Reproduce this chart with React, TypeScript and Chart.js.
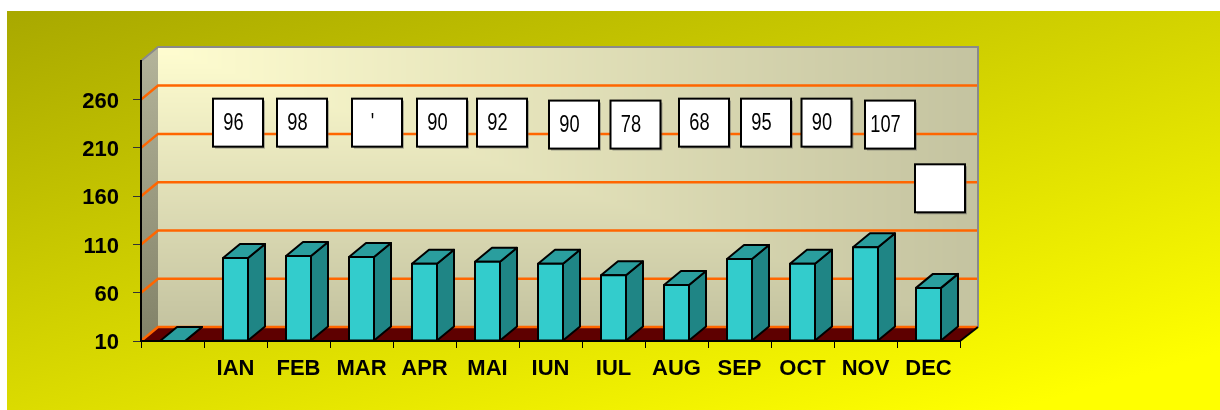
import React, { useEffect, useRef } from 'react';
import { Chart, registerables } from 'chart.js';

Chart.register(...registerables);

// ---------- data ----------
const categories = ['', 'IAN', 'FEB', 'MAR', 'APR', 'MAI', 'IUN', 'IUL', 'AUG', 'SEP', 'OCT', 'NOV', 'DEC'];
const values = [10, 96, 98, 97, 90, 92, 90, 78, 68, 95, 90, 107, 65];
const valueLabels: (string | null)[] = [null, '96', '98', "'", '90', '92', '90', '78', '68', '95', '90', '107', ''];
const yTicks = [10, 60, 110, 160, 210, 260];
const Y_MIN = 10;
const Y_MAX = 300;

// ---------- layout / style (not data) ----------
const labelNudgeX = [0, 2.5, 3.5, 15.5, 17.5, 14.5, 23.5, 22, 27.5, 26.5, 24, 24.5, 11.5];
const labelTopValue = [260, 261, 261, 261, 261, 261, 259, 259, 261, 261, 261, 259, 193];
const DX = 17;
const DY = 14;
const FONT = "'Liberation Sans', Arial, Helvetica, sans-serif";

function poly(ctx: CanvasRenderingContext2D, pts: number[][], fill: any, stroke?: string, lw = 2) {
  ctx.beginPath();
  ctx.moveTo(pts[0][0], pts[0][1]);
  for (let i = 1; i < pts.length; i++) ctx.lineTo(pts[i][0], pts[i][1]);
  ctx.closePath();
  ctx.fillStyle = fill;
  ctx.fill();
  if (stroke) {
    ctx.lineWidth = lw;
    ctx.strokeStyle = stroke;
    ctx.stroke();
  }
}

const threeD = {
  id: 'threeD',
  beforeDraw(chart: any) {
    const { ctx, chartArea: a, scales } = chart;
    const y = scales.y;
    const W = chart.width;
    const H = chart.height;
    ctx.save();
    // page background gradient
    const bg = ctx.createLinearGradient(7, 11, 183, 642);
    bg.addColorStop(0, '#a8a800');
    bg.addColorStop(1, '#ffff00');
    ctx.fillStyle = bg;
    ctx.fillRect(7, 11, W - 7, H - 11);

    const wl = a.left + DX;
    const wt = a.top - DY;
    const wr = a.right + DX;
    const wb = a.bottom - DY;

    // back wall: gradient from the top-left corner
    const ww = Math.round(wr - wl);
    const wh = Math.round(wb - wt);
    const off = document.createElement('canvas');
    off.width = ww;
    off.height = wh;
    const octx = off.getContext('2d')!;
    const img = octx.createImageData(ww, wh);
    const c0 = [255, 253, 208];
    const c1 = [196, 195, 160];
    for (let j = 0; j < wh; j++) {
      for (let i = 0; i < ww; i++) {
        let t = Math.max(i / ww, j / wh);
        t = Math.min(1, t);
        const k = (j * ww + i) * 4;
        img.data[k] = c0[0] + (c1[0] - c0[0]) * t;
        img.data[k + 1] = c0[1] + (c1[1] - c0[1]) * t;
        img.data[k + 2] = c0[2] + (c1[2] - c0[2]) * t;
        img.data[k + 3] = 255;
      }
    }
    octx.putImageData(img, 0, 0);
    ctx.drawImage(off, wl, wt);

    // left wall
    const lg = ctx.createLinearGradient(0, wt, 0, a.bottom);
    lg.addColorStop(0, '#b4b49a');
    lg.addColorStop(1, '#828268');
    poly(ctx, [[a.left, a.top], [wl, wt], [wl, wb], [a.left, a.bottom]], lg);

    // floor
    poly(ctx, [[a.left, a.bottom], [a.right, a.bottom], [wr, wb], [wl, wb]], '#5e0000');

    // gridlines on walls
    ctx.strokeStyle = '#ff6600';
    ctx.lineWidth = 2.5;
    for (const v of yTicks) {
      const py = y.getPixelForValue(v);
      ctx.beginPath();
      ctx.moveTo(a.left, py);
      ctx.lineTo(wl, py - DY);
      ctx.lineTo(wr, py - DY);
      ctx.stroke();
    }

    // wall outline
    ctx.strokeStyle = '#8a8a8a';
    ctx.lineWidth = 2;
    ctx.beginPath();
    ctx.moveTo(a.left, a.top);
    ctx.lineTo(wl, wt);
    ctx.lineTo(wr + 1, wt);
    ctx.lineTo(wr + 1, wb);
    ctx.stroke();

    // floor right edge
    ctx.strokeStyle = '#000';
    ctx.lineWidth = 2;
    ctx.beginPath();
    ctx.moveTo(a.right, a.bottom);
    ctx.lineTo(wr + 1, wb);
    ctx.stroke();
    ctx.restore();
  },
  afterDatasetsDraw(chart: any) {
    const { ctx, chartArea: a } = chart;
    const meta = chart.getDatasetMeta(0);
    ctx.save();
    ctx.lineJoin = 'round';
    meta.data.forEach((el: any) => {
      const p = el.getProps(['x', 'y', 'base', 'width'], true);
      const b = Math.min(p.base, a.bottom);
      const top = Math.min(p.y, b);
      const l = p.x - p.width / 2;
      const r = p.x + p.width / 2;
      poly(ctx, [[r, top], [r + DX, top - DY], [r + DX, b - DY], [r, b]], '#1f8585', '#000');
      poly(ctx, [[l, top], [r, top], [r + DX, top - DY], [l + DX, top - DY]], '#2a9e9e', '#000');
      if (b - top > 0.5) poly(ctx, [[l, top], [r, top], [r, b], [l, b]], '#33cccc', '#000');
    });
    ctx.restore();
  },
  afterDraw(chart: any) {
    const { ctx, scales } = chart;
    const x = scales.x;
    const y = scales.y;
    ctx.save();
    valueLabels.forEach((txt, i) => {
      if (txt === null) return;
      const bw = 50;
      const bh = 48;
      const cx = x.getPixelForValue(i) + labelNudgeX[i];
      const top = y.getPixelForValue(labelTopValue[i]);
      const left = cx - bw / 2;
      ctx.fillStyle = 'rgba(90,90,90,0.45)';
      ctx.fillRect(left + 2, top + 2, bw, bh);
      ctx.fillStyle = '#ffffff';
      ctx.fillRect(left, top, bw, bh);
      ctx.lineWidth = 2;
      ctx.strokeStyle = '#000';
      ctx.strokeRect(left, top, bw, bh);
      if (txt) {
        ctx.save();
        ctx.translate(cx - 4.5, top + bh / 2 + 1);
        ctx.scale(0.76, 1);
        ctx.font = `24px ${FONT}`;
        ctx.fillStyle = '#000';
        ctx.textAlign = 'center';
        ctx.textBaseline = 'middle';
        ctx.fillText(txt, 0, 0);
        ctx.restore();
      }
    });
    ctx.restore();
  },
};

export default function App() {
  const ref = useRef<HTMLCanvasElement | null>(null);
  useEffect(() => {
    if (!ref.current) return;
    const chart = new Chart(ref.current, {
      type: 'bar',
      data: {
        labels: categories,
        datasets: [
          {
            data: values,
            backgroundColor: 'rgba(0,0,0,0)',
            borderWidth: 0,
            base: Y_MIN,
            barThickness: 25,
          } as any,
        ],
      },
      options: {
        animation: false,
        responsive: false,
        devicePixelRatio: 1,
        layout: { padding: { left: 0, top: 61, right: 260, bottom: 0 } },
        plugins: {
          legend: { display: false },
          tooltip: { enabled: false },
        },
        scales: {
          x: {
            offset: true,
            grid: { display: true, drawOnChartArea: false, drawTicks: true, tickLength: 7, color: '#000', lineWidth: 1, offset: true },
            border: { display: true, color: '#000', width: 2 },
            ticks: { color: '#000', padding: 8, maxRotation: 0, autoSkip: false, font: { family: FONT, size: 22, weight: 'bold' } },
            afterFit: (s: any) => {
              s.height = 69;
            },
          },
          y: {
            min: Y_MIN,
            max: Y_MAX,
            afterBuildTicks: (s: any) => {
              s.ticks = yTicks.map((v) => ({ value: v }));
            },
            grid: { display: true, drawOnChartArea: false, drawTicks: true, tickLength: 8, color: '#333', lineWidth: 1 },
            border: { display: true, color: '#000', width: 2 },
            ticks: { color: '#000', padding: 14, labelOffset: 2, font: { family: FONT, size: 22, weight: 'bold' } },
            afterFit: (s: any) => {
              s.width = 141;
            },
          },
        },
      } as any,
      plugins: [threeD],
    });
    return () => chart.destroy();
  }, []);
  return (
    <div style={{ position: 'fixed', left: 0, top: 0, width: 1220, height: 410, background: '#fff' }}>
      <canvas ref={ref} width={1220} height={410} style={{ display: 'block' }} />
    </div>
  );
}
